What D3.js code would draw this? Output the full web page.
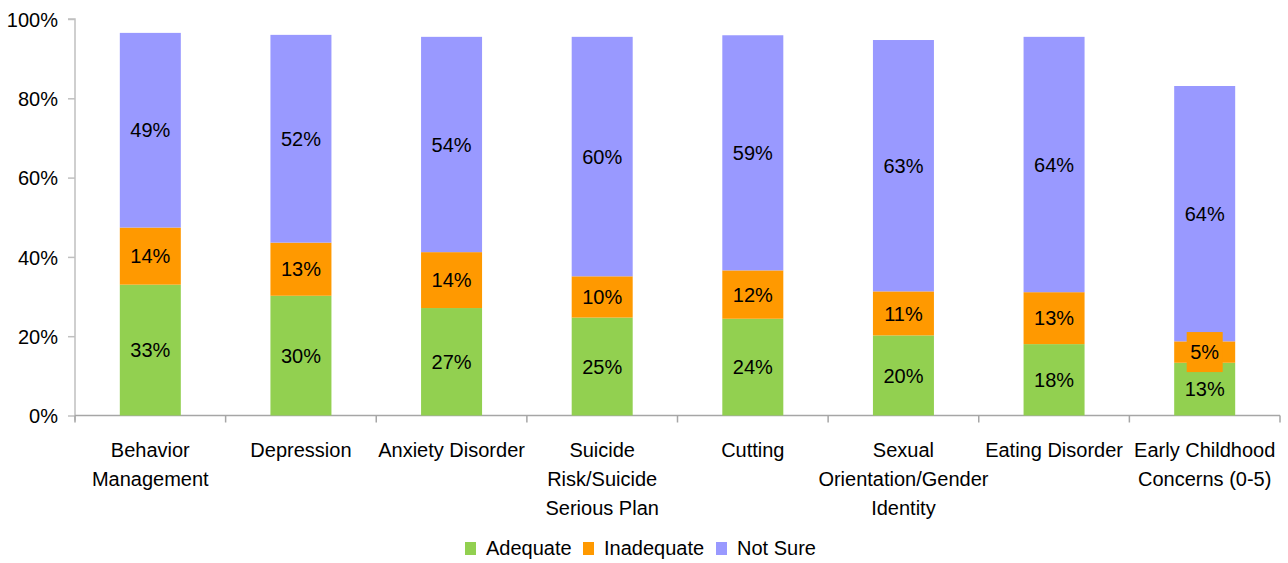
<!DOCTYPE html>
<html><head><meta charset="utf-8">
<script src="https://cdn.jsdelivr.net/npm/d3@7"></script>
<style>body{margin:0;background:#fff}svg text{font-family:"Liberation Sans",Arial,sans-serif;fill:#000}</style>
</head><body><svg id="c" width="1288" height="563"></svg>
<script>
const categories = [
  ["Behavior","Management"],
  ["Depression"],
  ["Anxiety Disorder"],
  ["Suicide","Risk/Suicide","Serious Plan"],
  ["Cutting"],
  ["Sexual","Orientation/Gender","Identity"],
  ["Eating Disorder"],
  ["Early Childhood","Concerns (0-5)"]
];
const seriesNames = ["Adequate","Inadequate","Not Sure"];
const adequate   = [33.0, 30.2, 27.1, 24.7, 24.4, 20.2, 18.0, 13.3];
const inadequate = [14.4, 13.4, 14.1, 10.4, 12.2, 11.1, 13.1, 5.4];
const notSure    = [49.1, 52.4, 54.3, 60.4, 59.3, 63.4, 64.4, 64.4];
const yTicks = [0, 20, 40, 60, 80, 100];
const colors = ["#92D050", "#FF9900", "#9999FF"];

const FS = 20;
const svg = d3.select("#c");
const L = 75, R = 1280, T = 19, B = 415.5;
const keys = categories.map((c,i)=>"k"+i);
const x = d3.scaleBand().domain(keys).range([L, R]).paddingInner(0).paddingOuter(0);
const y = d3.scaleLinear().domain([0,100]).range([B, T]);
const rows = keys.map((k,i)=>({key:k, a:adequate[i], b:inadequate[i], c:notSure[i]}));
const stack = d3.stack().keys(["a","b","c"])(rows);
const bw = x.bandwidth()*0.405;
const fmt = v => d3.format(".0f")(v) + "%";

// y axis
const ya = svg.append("g").attr("transform",`translate(${L},0)`)
  .call(d3.axisLeft(y).tickValues(yTicks).tickFormat(d=>d+"%").tickSize(7).tickPadding(10));
ya.select(".domain").attr("stroke","#c0c0c0").attr("stroke-width",1.5).attr("d",`M-7,${T}H0V${B+5}`);
ya.selectAll(".tick line").attr("stroke","#c0c0c0").attr("stroke-width",1.5);
ya.selectAll(".tick text").attr("font-size",FS).attr("dy","0.36em").style("font-family","Liberation Sans, Arial");

// x axis
const xa = svg.append("g").attr("transform",`translate(0,${B})`);
xa.append("line").attr("x1",L).attr("x2",R).attr("stroke","#a6a6a6").attr("stroke-width",1.5);
xa.selectAll("line.t").data(keys.concat(["end"])).enter().append("line")
  .attr("x1",(d,i)=> i<keys.length ? x(d) : R).attr("x2",(d,i)=> i<keys.length ? x(d) : R)
  .attr("y1",0).attr("y2",7).attr("stroke","#a6a6a6").attr("stroke-width",1.5);

// bars
stack.forEach((s,si)=>{
  svg.append("g").selectAll("rect").data(s).enter().append("rect")
    .attr("x", d=>x(d.data.key)+x.bandwidth()/2-bw/2)
    .attr("width", bw)
    .attr("y", d=>y(d[1]))
    .attr("height", d=>y(d[0])-y(d[1]))
    .attr("fill", colors[si]);
});
// labels
stack.forEach((s,si)=>{
  const g = svg.append("g");
  s.forEach(d=>{
    const cx = x(d.data.key)+x.bandwidth()/2;
    const cy = (y(d[0])+y(d[1]))/2;
    const h = y(d[0])-y(d[1]);
    if (h < 24) {
      g.append("rect").attr("x",cx-18).attr("y",cy-20).attr("width",36).attr("height",40).attr("fill",colors[si]);
    }
    g.append("text").attr("x",cx).attr("y",cy).attr("dy","0.36em").attr("text-anchor","middle")
      .attr("font-size",FS).text(fmt(d[1]-d[0]));
  });
});

// category labels
categories.forEach((lines,i)=>{
  const t = svg.append("text").attr("text-anchor","middle").attr("font-size",FS);
  lines.forEach((ln,j)=>{
    t.append("tspan").attr("x", x(keys[i])+x.bandwidth()/2).attr("y", 457 + j*29).text(ln);
  });
});

// legend
const legX = [465, 583, 716];
seriesNames.forEach((n,i)=>{
  svg.append("rect").attr("x",legX[i]).attr("y",542).attr("width",11).attr("height",13).attr("fill",colors[i]);
  svg.append("text").attr("x",legX[i]+21).attr("y",555).attr("font-size",FS).text(n);
});
</script></body></html>
